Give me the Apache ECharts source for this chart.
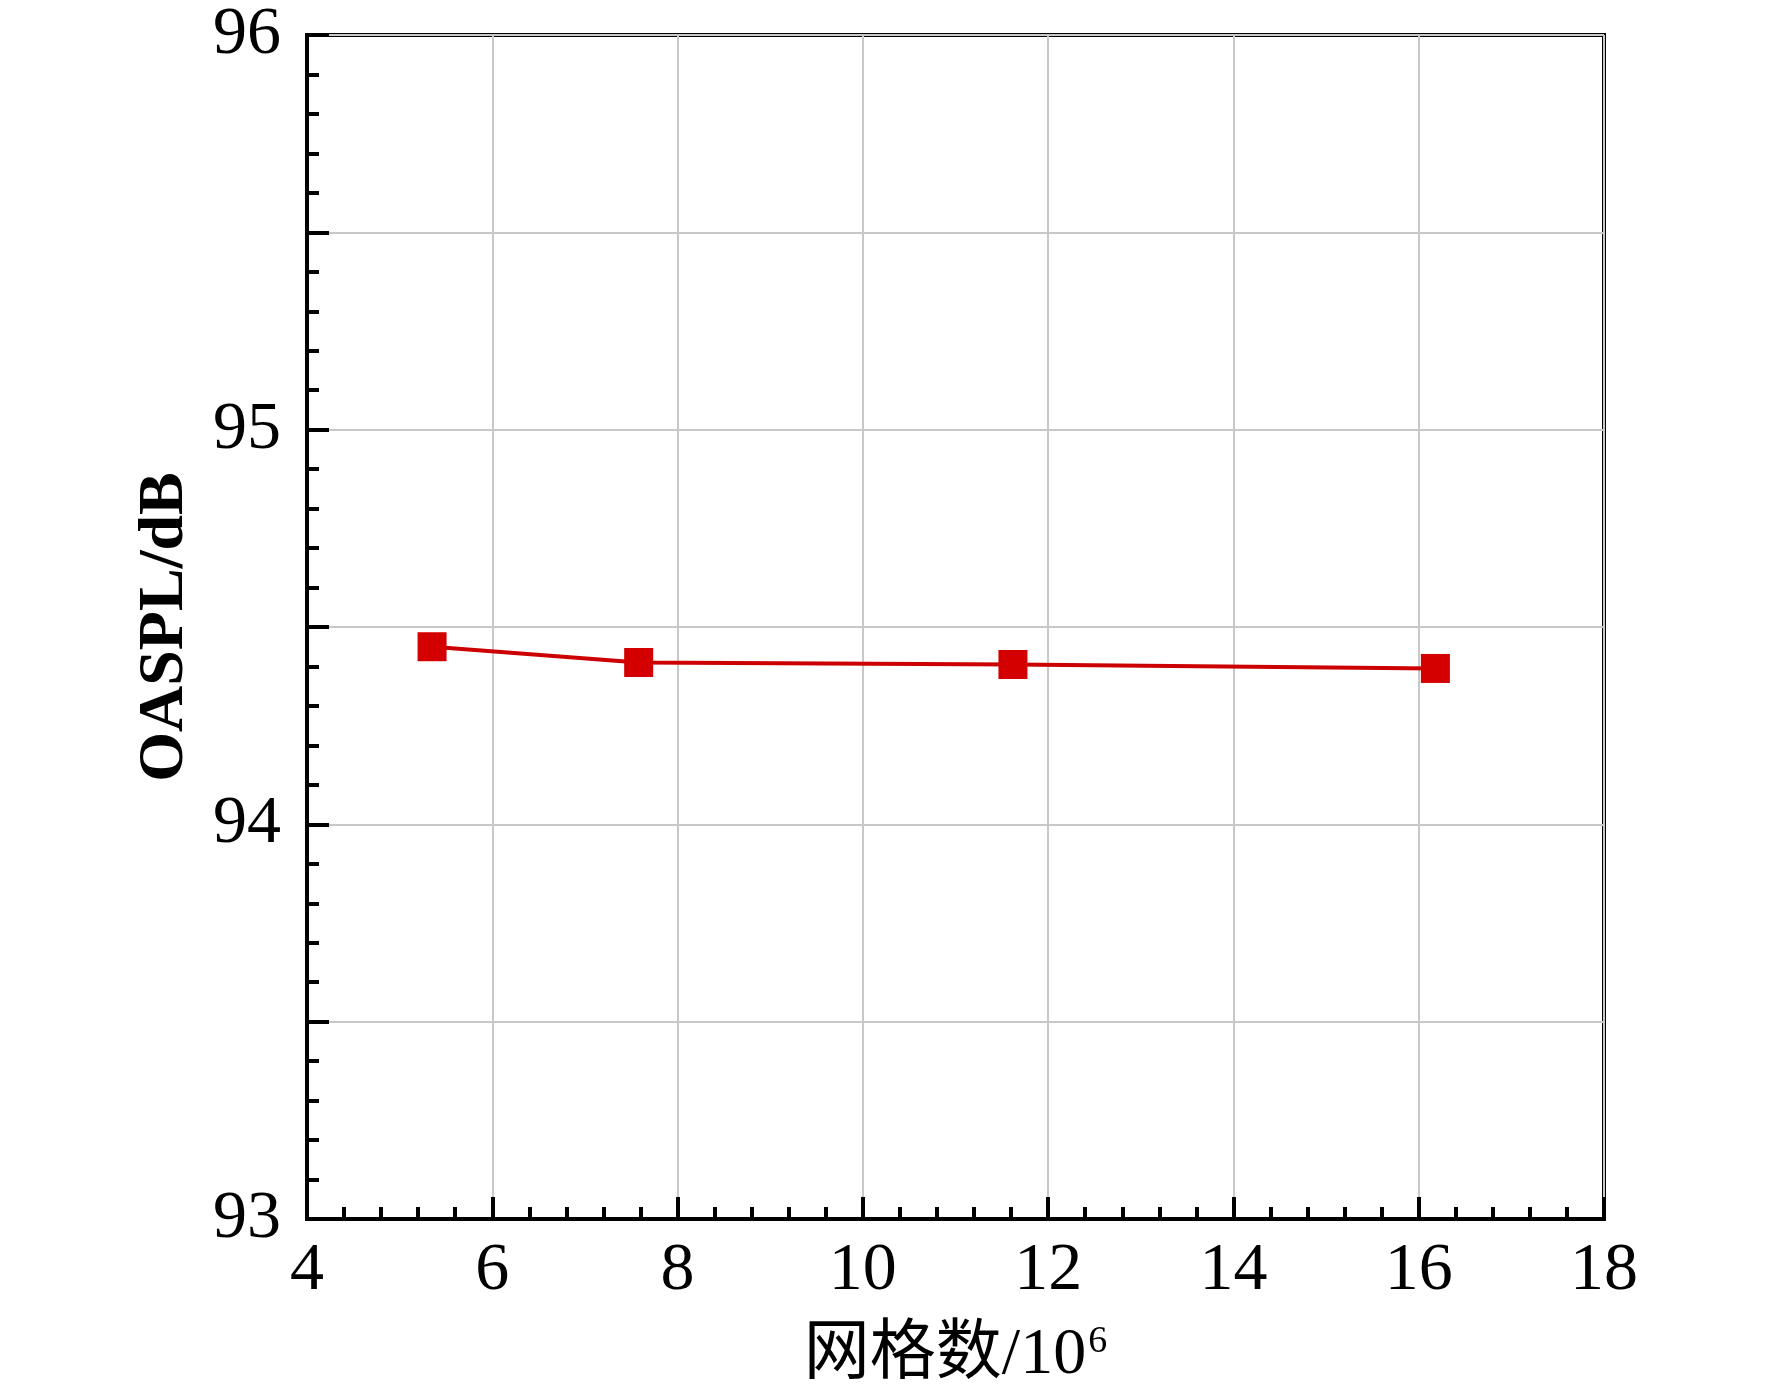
<!DOCTYPE html>
<html>
<head>
<meta charset="utf-8">
<script src="https://cdn.jsdelivr.net/npm/echarts@6/dist/echarts.min.js"></script>
<style>
  html, body { margin: 0; padding: 0; background: #fff; }
  #main { width: 1772px; height: 1394px; }
</style>
</head>
<body>
<div id="main"></div>
<script>
// 网格数 (10^6) 与 OASPL (dB)
var gridCounts = [5.35, 7.58, 11.62, 16.18];
var oaspl = [94.45, 94.41, 94.405, 94.395];
var xTickLabels = ['4', '6', '8', '10', '12', '14', '16', '18'];
var yTickLabels = ['93', '94', '95', '96'];

var serif = '"Liberation Serif", "Noto Sans CJK SC", serif';

var myChart = echarts.init(document.getElementById('main'));
var option = {
    backgroundColor: '#fff',
    animation: false,
    grid: {
        left: 307,
        right: 168,
        top: 35,
        bottom: 175,
        show: true,
        borderColor: '#000',
        borderWidth: 4,
        backgroundColor: 'transparent'
    },
    xAxis: {
        type: 'value',
        min: 4,
        max: 18,
        interval: 2,
        name: '{a|网格数/10}{sup|6}',
        nameLocation: 'middle',
        nameGap: 104,
        nameTextStyle: {
            fontFamily: serif,
            fontSize: 66,
            color: '#000',
            rich: {
                a: { fontFamily: serif, fontSize: 66, color: '#000' },
                sup: { fontFamily: serif, fontSize: 38, color: '#000', verticalAlign: 'top', padding: [0, 0, 24, 2] }
            }
        },
        axisLine: { lineStyle: { color: '#000', width: 4 } },
        axisTick: { inside: true, length: 22, lineStyle: { color: '#000', width: 4 } },
        minorTick: { show: true, splitNumber: 5, length: 12, lineStyle: { color: '#000', width: 4 } },
        axisLabel: {
            margin: 18,
            fontFamily: serif,
            fontSize: 68,
            color: '#000',
            formatter: function (v) {
                var s = String(v);
                return xTickLabels.indexOf(s) >= 0 ? s : '';
            }
        },
        splitLine: { show: true, lineStyle: { color: '#c8c8c8', width: 2 } }
    },
    yAxis: {
        type: 'value',
        min: 93,
        max: 96,
        interval: 0.5,
        name: 'OASPL/dB',
        nameLocation: 'middle',
        nameRotate: 90,
        nameGap: 110,
        nameTextStyle: {
            fontFamily: serif,
            fontSize: 64,
            fontWeight: 'bold',
            color: '#000'
        },
        axisLine: { lineStyle: { color: '#000', width: 4 } },
        axisTick: { inside: true, length: 22, lineStyle: { color: '#000', width: 4 } },
        minorTick: { show: true, splitNumber: 5, length: 12, lineStyle: { color: '#000', width: 4 } },
        axisLabel: {
            margin: 26,
            fontFamily: serif,
            fontSize: 68,
            color: '#000',
            formatter: function (v) {
                var s = String(v);
                return yTickLabels.indexOf(s) >= 0 ? s : '';
            }
        },
        splitLine: { show: true, lineStyle: { color: '#c8c8c8', width: 2 } }
    },
    series: [
        {
            name: 'OASPL',
            type: 'line',
            data: gridCounts.map(function (x, i) { return [x, oaspl[i]]; }),
            symbol: 'rect',
            symbolSize: 29,
            showAllSymbol: true,
            itemStyle: { color: '#d40000' },
            lineStyle: { color: '#cc0000', width: 4 },
            z: 5
        }
    ]
};
myChart.setOption(option);
</script>
</body>
</html>
